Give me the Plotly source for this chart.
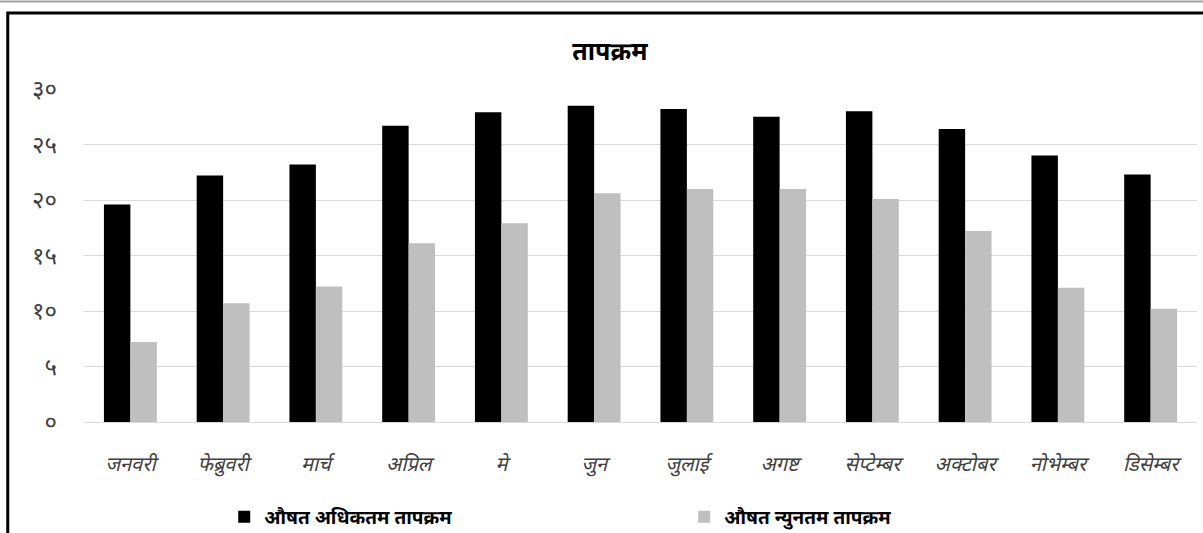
import plotly.graph_objects as go

months = ["जनवरी", "फेब्रुवरी", "मार्च", "अप्रिल", "मे", "जुन",
          "जुलाई", "अगष्ट", "सेप्टेम्बर", "अक्टोबर", "नोभेम्बर", "डिसेम्बर"]
max_temp = [19.6, 22.2, 23.2, 26.7, 27.9, 28.5, 28.2, 27.5, 28.0, 26.4, 24.0, 22.3]
min_temp = [7.2, 10.7, 12.2, 16.1, 17.9, 20.6, 21.0, 21.0, 20.1, 17.2, 12.1, 10.2]
y_ticks = [0, 5, 10, 15, 20, 25, 30]
y_tick_text = ["०", "५", "१०", "१५", "२०", "२५", "३०"]

FONT = "Noto Sans Devanagari, Lohit Devanagari, FreeSans, Noto Sans, sans-serif"

fig = go.Figure()
fig.add_trace(go.Bar(x=months, y=max_temp, name="औषत अधिकतम तापक्रम",
                     marker=dict(color="#000000", line=dict(width=0))))
fig.add_trace(go.Bar(x=months, y=min_temp, name="औषत न्युनतम तापक्रम",
                     marker=dict(color="#bfbfbf", line=dict(width=0))))

fig.update_layout(
    width=1203, height=533,
    margin=dict(l=84, r=6, t=89, b=111, autoexpand=False),
    paper_bgcolor="white", plot_bgcolor="white",
    font=dict(family=FONT, color="#595959"),
    bargap=0.43, bargroupgap=0,
    title=dict(text="<b>तापक्रम</b>", x=0.507, xanchor="center", y=0.903, yanchor="middle",
               font=dict(size=25, color="#000000")),
    legend=dict(orientation="h", x=0.126, xanchor="left", y=-0.285, yanchor="middle",
                entrywidth=415, entrywidthmode="pixels", itemwidth=30,
                font=dict(size=19, color="#000000", weight="bold")),
)
fig.update_yaxes(range=[0, 30], tickvals=y_ticks, ticktext=y_tick_text,
                 showgrid=True, gridcolor="#d9d9d9", gridwidth=1, zeroline=False,
                 showline=False, ticks="", ticklabelstandoff=26,
                 tickfont=dict(size=24, color="#404040"))
fig.update_xaxes(showline=True, linecolor="#d9d9d9", linewidth=1, ticks="",
                 ticklabelstandoff=24, tickfont=dict(size=20, color="#404040", style="italic"))

# outer frame of the original picture
fig.add_shape(type="rect", xref="paper", yref="paper",
              x0=-0.0685, x1=1.02, y0=-0.4, y1=1.228,
              line=dict(color="black", width=3), fillcolor="rgba(0,0,0,0)")
fig.add_shape(type="line", xref="paper", yref="paper",
              x0=-0.1, x1=1.1, y0=1.263, y1=1.263,
              line=dict(color="#a0a0a0", width=2))

fig.write_html("out.html", config={"displayModeBar": False},
               post_script="document.body.style.margin = '0';")
